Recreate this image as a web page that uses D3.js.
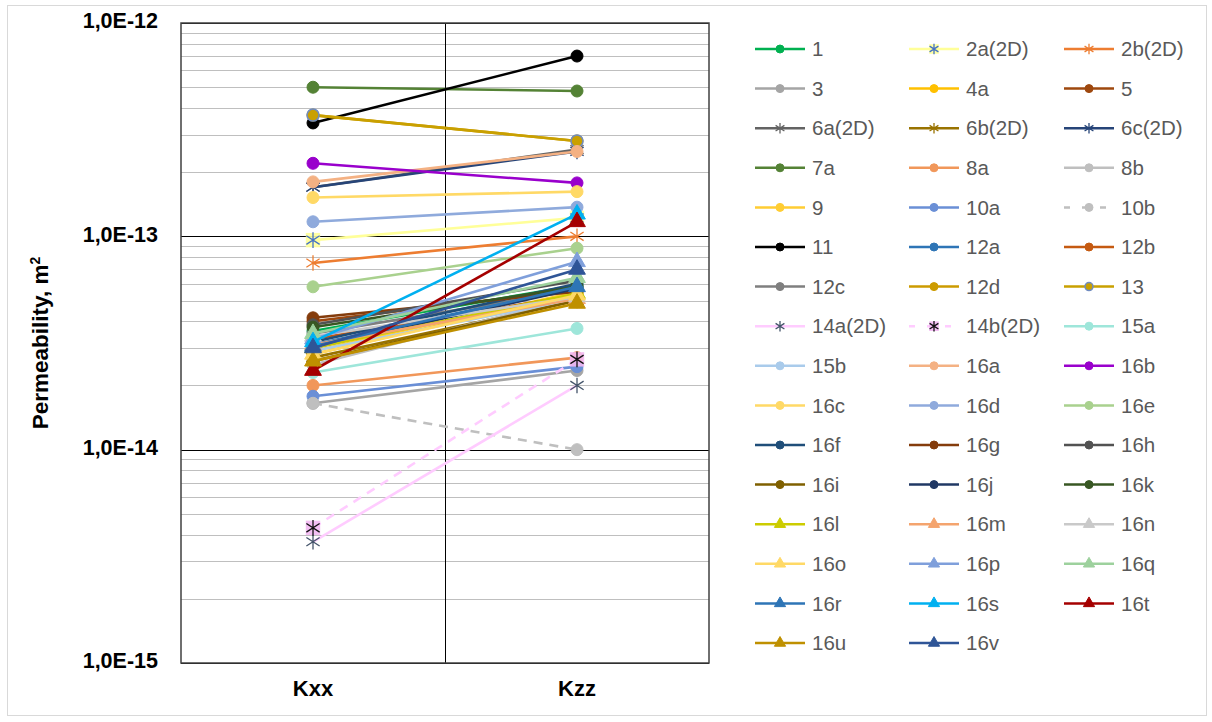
<!DOCTYPE html>
<html>
<head>
<meta charset="utf-8">
<script src="https://cdn.jsdelivr.net/npm/d3@7"></script>
<style>
  body { margin: 0; background: #fff; }
  text { font-family: Arial, "Liberation Sans", sans-serif; }
</style>
</head>
<body>
<div id="chart"></div>
<script>
// categories on x, one value per category per sample
const categories = ['Kxx', 'Kzz'];

const seriesNames = [
  '1', '2a(2D)', '2b(2D)',
  '3', '4a', '5',
  '6a(2D)', '6b(2D)', '6c(2D)',
  '7a', '8a', '8b',
  '9', '10a', '10b',
  '11', '12a', '12b',
  '12c', '12d', '13',
  '14a(2D)', '14b(2D)', '15a',
  '15b', '16a', '16b',
  '16c', '16d', '16e',
  '16f', '16g', '16h',
  '16i', '16j', '16k',
  '16l', '16m', '16n',
  '16o', '16p', '16q',
  '16r', '16s', '16t',
  '16u', '16v'
];

// permeability, m2
const kxx = [
  3.6e-14, 9.6e-14, 7.5e-14,
  1.65e-14, 2.8e-14, 4.0e-14,
  1.7e-13, 2.7e-14, 1.7e-13,
  5.0e-13, 2.0e-14, 2.5e-14,
  2.9e-14, 1.78e-14, 1.65e-14,
  3.4e-13, 3.1e-14, 3.3e-14,
  3.5e-14, 3.7e-13, 3.7e-13,
  3.7e-15, 4.3e-15, 2.3e-14,
  2.9e-14, 1.8e-13, 2.2e-13,
  1.52e-13, 1.17e-13, 5.8e-14,
  3.2e-14, 4.15e-14, 3.85e-14,
  2.6e-14, 3.0e-14, 3.75e-14,
  3.0e-14, 3.1e-14, 3.4e-14,
  2.8e-14, 3.3e-14, 3.5e-14,
  3.05e-14, 3.2e-14, 2.35e-14,
  2.6e-14, 3.0e-14
];

const kzz = [
  5.9e-14, 1.22e-13, 1.0e-13,
  2.35e-14, 5.4e-14, 5.6e-14,
  2.55e-13, 5.0e-14, 2.5e-13,
  4.8e-13, 2.7e-14, 5.2e-14,
  5.5e-14, 2.45e-14, 1.0e-14,
  7.0e-13, 5.8e-14, 5.3e-14,
  5.6e-14, 2.8e-13, 2.8e-13,
  2.0e-14, 2.65e-14, 3.7e-14,
  5.1e-14, 2.5e-13, 1.78e-13,
  1.62e-13, 1.37e-13, 8.8e-14,
  6.0e-14, 5.5e-14, 6.2e-14,
  5.0e-14, 5.7e-14, 5.8e-14,
  5.4e-14, 5.1e-14, 5.2e-14,
  5.3e-14, 7.6e-14, 6.4e-14,
  5.8e-14, 1.27e-13, 1.17e-13,
  4.85e-14, 7.0e-14
];

const yTicks = [1e-12, 1e-13, 1e-14, 1e-15];

// styles
const lineColors = [
  '#00B050', '#FFFF99', '#ED7D31',
  '#A5A5A5', '#FFC000', '#9E480E',
  '#636363', '#997300', '#264478',
  '#548235', '#F1975A', '#BFBFBF',
  '#FFCD33', '#6A8FD6', '#BFBFBF',
  '#000000', '#2E75B6', '#C55A11',
  '#7F7F7F', '#CC9B00', '#C9A000',
  '#FFCCFF', '#FFCCFF', '#9EE6DA',
  '#A9CBEB', '#F4B183', '#9900CC',
  '#FFD966', '#8FAADC', '#A9D18E',
  '#1F4E79', '#843C0C', '#525252',
  '#7F6000', '#203864', '#385723',
  '#CCCC00', '#F4A46E', '#C9C9C9',
  '#FFD966', '#7F9FDB', '#9DD19D',
  '#2E75B6', '#00B0F0', '#A50000',
  '#BF9000', '#2F5597'
];
const markerStroke = lineColors.slice();
markerStroke[1] = '#4472C4';
markerStroke[20] = '#6F8BC0';
markerStroke[21] = '#44546A';
markerStroke[22] = '#111111';
const markerFill = lineColors.slice();

const markerType = seriesNames.map(n => {
  if (n.includes('(2D)')) return 'star';
  if (/^16[l-v]$/.test(n)) return 'triangle';
  return 'circle';
});
const dashed = seriesNames.map(n => n === '10b' || n === '14b(2D)');

const W = 1212, H = 722;
const plot = { left: 181, right: 709, top: 23, bottom: 663 };

const svg = d3.select('#chart').append('svg')
  .attr('width', W)
  .attr('height', H);

// outer chart frame
svg.append('rect')
  .attr('x', 7.5).attr('y', 5.5)
  .attr('width', 1199).attr('height', 710)
  .attr('fill', '#fff')
  .attr('stroke', '#D9D9D9');

const x = d3.scaleBand().domain(categories).range([plot.left, plot.right]);
const y = d3.scaleLog().domain([1e-15, 1e-12]).range([plot.bottom, plot.top]);

// gridlines
const minor = y.ticks().filter(v => !yTicks.some(t => Math.abs(v / t - 1) < 1e-6));
svg.append('g').selectAll('line')
  .data(minor)
  .enter().append('line')
  .attr('x1', plot.left).attr('x2', plot.right)
  .attr('y1', d => Math.round(y(d)) + 0.5).attr('y2', d => Math.round(y(d)) + 0.5)
  .attr('stroke', '#BFBFBF')
  .attr('stroke-width', 1);

svg.append('g').selectAll('line')
  .data(yTicks)
  .enter().append('line')
  .attr('x1', plot.left).attr('x2', plot.right)
  .attr('y1', d => Math.round(y(d)) + 0.5).attr('y2', d => Math.round(y(d)) + 0.5)
  .attr('stroke', '#000')
  .attr('stroke-width', 1);

// vertical divider between categories
svg.append('line')
  .attr('x1', x('Kzz') + 0.5).attr('x2', x('Kzz') + 0.5)
  .attr('y1', plot.top).attr('y2', plot.bottom)
  .attr('stroke', '#000');

svg.append('rect')
  .attr('x', plot.left).attr('y', plot.top)
  .attr('width', plot.right - plot.left).attr('height', plot.bottom - plot.top)
  .attr('fill', 'none')
  .attr('stroke', '#404040')
  .attr('stroke-width', 1.5);

// y axis labels
const fmt = v => d3.format('.1e')(v).replace('.', ',').toUpperCase();
const yAxis = d3.axisLeft(y).tickValues(yTicks).tickFormat(fmt).tickSize(0).tickPadding(23);
const yg = svg.append('g')
  .attr('transform', `translate(${plot.left},-2)`)
  .call(yAxis);
yg.select('.domain').remove();
yg.selectAll('text')
  .attr('font-family', 'Arial, "Liberation Sans", sans-serif')
  .attr('font-size', 21.5)
  .attr('font-weight', 'bold')
  .attr('fill', '#000');

// x axis labels
const xAxis = d3.axisBottom(x).tickSize(0).tickPadding(17);
const xg = svg.append('g')
  .attr('transform', `translate(0,${plot.bottom})`)
  .call(xAxis);
xg.select('.domain').remove();
xg.selectAll('text')
  .attr('font-family', 'Arial, "Liberation Sans", sans-serif')
  .attr('font-size', 22)
  .attr('font-weight', 'bold')
  .attr('fill', '#000');

// axis title
const yt = svg.append('text')
  .attr('transform', 'translate(48,343) rotate(-90)')
  .attr('text-anchor', 'middle')
  .attr('font-size', 22.5)
  .attr('font-weight', 'bold')
  .attr('fill', '#000');
yt.append('tspan').text('Permeability, m');
yt.append('tspan').attr('dy', -8).attr('font-size', 14).text('2');

// markers
const starPath = h => `M0,${-h}L0,${h}M${-h * 0.85},${-h * 0.55}L${h * 0.85},${h * 0.55}M${-h * 0.85},${h * 0.55}L${h * 0.85},${-h * 0.55}`;

function drawMarker(g, i, scale) {
  const t = markerType[i];
  if (t === 'circle') {
    g.append('circle').attr('r', 5 * scale)
      .attr('fill', markerFill[i])
      .attr('stroke', markerStroke[i])
      .attr('stroke-width', i === 20 ? 1.5 : 1);
  } else if (t === 'triangle') {
    g.append('path')
      .attr('d', d3.symbol().type(d3.symbolTriangle).size(85 * scale * scale)())
      .attr('fill', markerFill[i])
      .attr('stroke', markerStroke[i]);
  } else {
    if (i === 1 || i === 22) {
      g.append('rect')
        .attr('x', -6 * scale).attr('y', -6 * scale)
        .attr('width', 12 * scale).attr('height', 12 * scale)
        .attr('fill', i === 1 ? '#FFFF99' : '#F2B8F2')
        .attr('opacity', 0.9);
    }
    g.append('path')
      .attr('d', starPath(6.5 * scale))
      .attr('fill', 'none')
      .attr('stroke', markerStroke[i])
      .attr('stroke-width', 1.3);
  }
}

const line = d3.line()
  .x(d => x(d.cat) + x.bandwidth() / 2)
  .y(d => y(d.v));

const seriesData = seriesNames.map((name, i) => ({
  name, i,
  pts: [{ cat: categories[0], v: kxx[i] }, { cat: categories[1], v: kzz[i] }]
}));

const sg = svg.append('g').selectAll('g')
  .data(seriesData)
  .enter().append('g');

sg.append('path')
  .attr('d', d => line(d.pts))
  .attr('fill', 'none')
  .attr('stroke', d => lineColors[d.i])
  .attr('stroke-width', 2.6)
  .attr('stroke-dasharray', d => dashed[d.i] ? '9,7' : null);

sg.each(function (d) {
  const g = d3.select(this);
  d.pts.forEach(p => {
    const m = g.append('g')
      .attr('transform', `translate(${x(p.cat) + x.bandwidth() / 2},${y(p.v)})`);
    drawMarker(m, d.i, 1.2);
  });
});

// legend
const colX = [755, 909, 1064];
const legend = svg.append('g').selectAll('g')
  .data(seriesData)
  .enter().append('g')
  .attr('transform', d => `translate(${colX[d.i % 3]},${49 + Math.floor(d.i / 3) * 39.6})`);

legend.append('line')
  .attr('x1', 0).attr('x2', 50)
  .attr('stroke', d => lineColors[d.i])
  .attr('stroke-width', 2.5)
  .attr('stroke-dasharray', d => dashed[d.i] ? '6,12' : null);

legend.each(function (d) {
  const m = d3.select(this).append('g').attr('transform', 'translate(25,0)');
  drawMarker(m, d.i, 0.8);
});

legend.append('text')
  .attr('x', 57)
  .attr('y', 0)
  .attr('dy', '0.35em')
  .attr('font-size', 20.5)
  .attr('fill', '#595959')
  .text(d => d.name);
</script>
</body>
</html>
